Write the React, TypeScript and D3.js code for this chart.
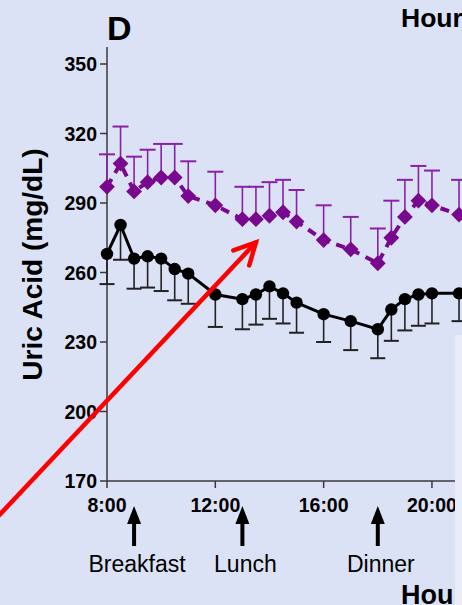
import React from "react";
import * as d3 from "d3";

const hours = [8, 8.5, 9, 9.5, 10, 10.5, 11, 12, 13, 13.5, 14, 14.5, 15, 16, 17, 18, 18.5, 19, 19.5, 20, 21];
const purpleMean = [297, 307, 295, 299, 301, 301, 293, 289, 283, 283, 284.5, 286, 282, 274, 270, 264, 275, 284, 291, 289, 285];
const purpleUpper = [311, 323, 310, 313, 315.5, 315.5, 308, 303.5, 297, 297, 299, 300, 295.6, 289, 284, 279, 291, 300, 306, 304, 300];
const blackMean = [268, 280.5, 266, 267, 266, 261.5, 259.5, 250.5, 248.5, 250.5, 254, 251, 247, 242, 239, 235.5, 244, 248.5, 250.5, 251, 251];
const blackLower = [255, 265.5, 253, 253.5, 252, 248, 246.5, 236.5, 235.5, 237.5, 240, 238, 234, 230, 226.5, 223, 230.5, 235, 237, 238, 239];

const yTicks = [170, 200, 230, 260, 290, 320, 350];
const xTicks = [8, 12, 16, 20];
const xTickLabels = ["8:00", "12:00", "16:00", "20:00"];
const meals = ["Breakfast", "Lunch", "Dinner"];
const mealHours = [9, 13, 18];
const arrowTail = { hour: 4.0, value: 155 };
const arrowTip = { hour: 13.5, value: 273 };

const W = 462;
const H = 605;
const FONT = "'Liberation Sans', Arial, sans-serif";
const PURPLE = "#78098f";

export default function App() {
  const x = d3.scaleLinear().domain([8, 24]).range([107, 107 + 16 * 27.08]);
  const y = d3.scaleLinear().domain([170, 350]).range([481, 64]);

  const purplePts = hours.map((h, i) => ({ h, v: purpleMean[i], u: purpleUpper[i] }));
  const blackPts = hours.map((h, i) => ({ h, v: blackMean[i], l: blackLower[i] }));

  const line = d3
    .line<{ h: number; v: number }>()
    .x((d) => x(d.h))
    .y((d) => y(d.v));

  const diamond = d3.symbol().type(d3.symbolSquare).size(125)();

  const tx = x(arrowTail.hour), ty = y(arrowTail.value);
  const px = x(arrowTip.hour), py = y(arrowTip.value);
  const ang = Math.atan2(ty - py, tx - px);
  const headLen = 24;
  const spread = (27 * Math.PI) / 180;
  const w1 = [px + headLen * Math.cos(ang + spread), py + headLen * Math.sin(ang + spread)];
  const w2 = [px + headLen * Math.cos(ang - spread), py + headLen * Math.sin(ang - spread)];

  const axisColor = "#3a3a3a";

  return (
    <svg
      width={W}
      height={H}
      style={{ position: "absolute", left: 0, top: 0, display: "block" }}
      fontFamily={FONT}
    >
      <rect x={0} y={0} width={W} height={H} fill="#dce2f5" />

      {/* Panel letter and titles */}
      <text x={107} y={40} fontSize={34} fontWeight="bold" fill="#000">D</text>
      <text x={401} y={27} fontSize={26.5} fontWeight="bold" fill="#000">Hour</text>

      {/* Y axis */}
      <line x1={107} x2={107} y1={47} y2={481} stroke={axisColor} strokeWidth={1.5} />
      {yTicks.map((t) => (
        <g key={t}>
          <line x1={100} x2={107} y1={y(t)} y2={y(t)} stroke={axisColor} strokeWidth={1.5} />
          <text x={97} y={y(t)} dy="0.36em" textAnchor="end" fontSize={19.5} fontWeight="bold" fill="#000">
            {t}
          </text>
        </g>
      ))}
      <text
        transform={`translate(42, ${(147 + 382) / 2}) rotate(-90)`}
        textAnchor="middle"
        fontSize={28}
        fontWeight="bold"
        fill="#000"
      >
        Uric Acid (mg/dL)
      </text>

      {/* X axis */}
      <line x1={107} x2={W} y1={481} y2={481} stroke={axisColor} strokeWidth={1.5} />
      {xTicks.map((t, i) => (
        <g key={t}>
          <line x1={x(t)} x2={x(t)} y1={481} y2={488} stroke={axisColor} strokeWidth={1.5} />
          <text x={x(t)} y={511.5} textAnchor="middle" fontSize={19.5} fontWeight="bold" fill="#000">
            {xTickLabels[i]}
          </text>
        </g>
      ))}

      {/* Meal arrows */}
      {mealHours.map((h, i) => (
        <g key={meals[i]}>
          <line x1={x(h)} x2={x(h)} y1={520} y2={546} stroke="#000" strokeWidth={4} />
          <path
            d={`M${x(h)},506 L${x(h) - 7},524 L${x(h) + 7},524 Z`}
            fill="#000"
          />
          <text x={x(h) + 3} y={572} textAnchor="middle" fontSize={23} fill="#000">
            {meals[i]}
          </text>
        </g>
      ))}

      {/* Error bars */}
      {blackPts.map((d) => (
        <g key={"be" + d.h} stroke="#222" strokeWidth={1.6}>
          <line x1={x(d.h)} x2={x(d.h)} y1={y(d.v)} y2={y(d.l)} />
          <line x1={x(d.h) - 7.5} x2={x(d.h) + 7.5} y1={y(d.l)} y2={y(d.l)} strokeWidth={2} />
        </g>
      ))}
      {purplePts.map((d) => (
        <g key={"pe" + d.h} stroke="#8a20a8" strokeWidth={1.6}>
          <line x1={x(d.h)} x2={x(d.h)} y1={y(d.v)} y2={y(d.u)} />
          <line x1={x(d.h) - 8} x2={x(d.h) + 8} y1={y(d.u)} y2={y(d.u)} strokeWidth={2} />
        </g>
      ))}

      {/* Lines */}
      <path d={line(blackPts) || ""} fill="none" stroke="#000" strokeWidth={3} />
      <path
        d={line(purplePts) || ""}
        fill="none"
        stroke={PURPLE}
        strokeWidth={4}
        strokeDasharray="9,7"
      />

      {/* Markers */}
      {blackPts.map((d) => (
        <circle key={"bc" + d.h} cx={x(d.h)} cy={y(d.v)} r={6.2} fill="#000" />
      ))}
      {purplePts.map((d) => (
        <path
          key={"pd" + d.h}
          d={diamond || ""}
          transform={`translate(${x(d.h)},${y(d.v)}) rotate(45)`}
          fill={PURPLE}
        />
      ))}

      {/* Red arrow */}
      <g stroke="#ff0000" strokeWidth={4.5} strokeLinecap="round" fill="none">
        <line x1={tx} y1={ty} x2={px} y2={py} />
        <polyline points={`${w1[0]},${w1[1]} ${px},${py} ${w2[0]},${w2[1]}`} strokeLinejoin="miter" />
      </g>

      {/* Bottom title */}
      <text x={401} y={604} fontSize={27} fontWeight="bold" fill="#000">Hour</text>

      {/* Overlapping lighter panel edge */}
      <rect x={455} y={335} width={W - 455} height={H - 335} fill="#eaedf9" />
    </svg>
  );
}
